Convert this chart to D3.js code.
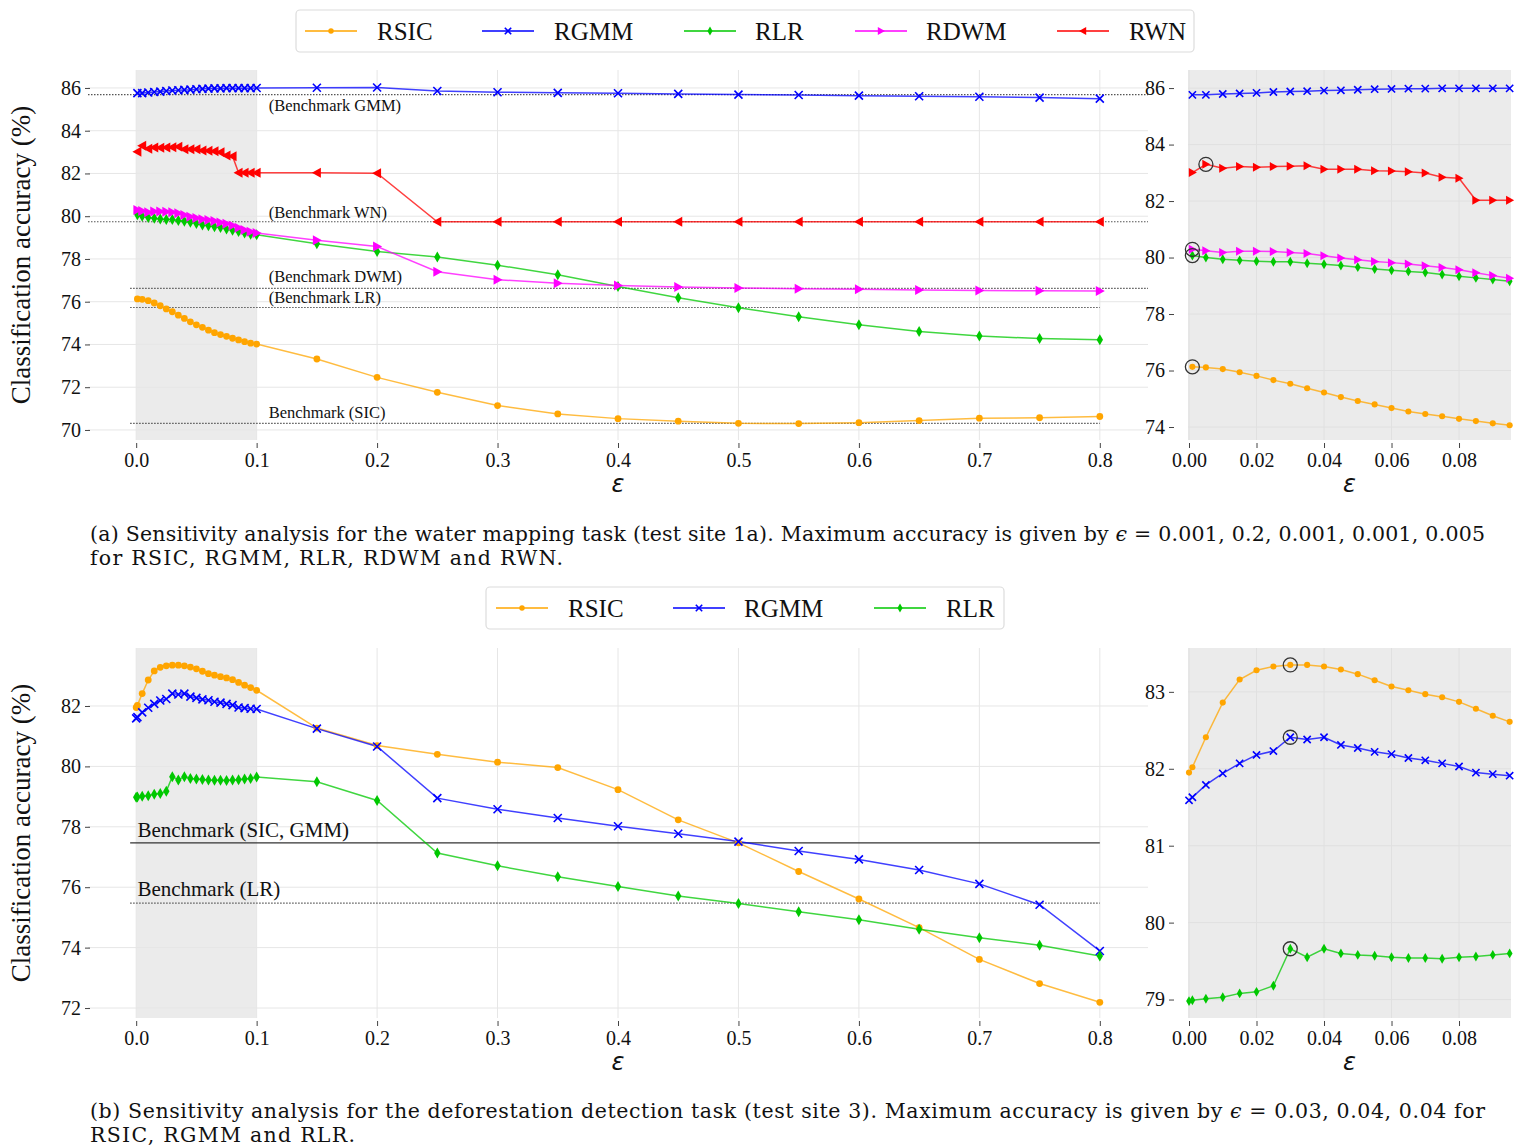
<!DOCTYPE html>
<html>
<head>
<meta charset="utf-8">
<script src="https://cdn.jsdelivr.net/npm/d3@7"></script>
<style>
  body { margin: 0; background: #fff; }
  svg { display: block; }
</style>
</head>
<body>
<script>
// ---- data: panel (a), water mapping ----
const epsA = [0.001, 0.005, 0.01, 0.015, 0.02, 0.025, 0.03, 0.035, 0.04, 0.045, 0.05, 0.055, 0.06, 0.065, 0.07, 0.075, 0.08, 0.085, 0.09, 0.095,
              0.1, 0.15, 0.2, 0.25, 0.3, 0.35, 0.4, 0.45, 0.5, 0.55, 0.6, 0.65, 0.7, 0.75, 0.8];
const rsicA = [76.13, 76.11, 76.05, 75.94, 75.81, 75.66, 75.53, 75.37, 75.22, 75.06, 74.92, 74.80, 74.67, 74.55, 74.46, 74.38, 74.29, 74.21, 74.13, 74.06,
               74.02, 73.32, 72.46, 71.76, 71.14, 70.75, 70.53, 70.41, 70.31, 70.30, 70.34, 70.44, 70.55, 70.57, 70.63];
const rgmmA = [85.76, 85.76, 85.79, 85.81, 85.83, 85.86, 85.88, 85.89, 85.91, 85.92, 85.94, 85.96, 85.97, 85.98, 85.98, 85.99, 85.99, 85.99, 85.99, 85.99,
               86.00, 86.01, 86.02, 85.86, 85.80, 85.77, 85.75, 85.72, 85.69, 85.67, 85.64, 85.61, 85.59, 85.55, 85.50];
const rlrA = [80.07, 80.00, 79.94, 79.90, 79.87, 79.85, 79.85, 79.80, 79.76, 79.72, 79.66, 79.59, 79.55, 79.51, 79.47, 79.40, 79.34, 79.28, 79.22, 79.16,
              79.13, 78.71, 78.35, 78.09, 77.71, 77.26, 76.71, 76.19, 75.72, 75.30, 74.92, 74.61, 74.39, 74.28, 74.22];
const rdwmA = [80.29, 80.24, 80.18, 80.22, 80.22, 80.21, 80.18, 80.14, 80.06, 79.98, 79.92, 79.86, 79.82, 79.77, 79.71, 79.65, 79.57, 79.46, 79.36, 79.27,
               79.21, 78.87, 78.58, 77.40, 77.03, 76.86, 76.76, 76.69, 76.64, 76.61, 76.58, 76.55, 76.53, 76.51, 76.50];
const rwnA = [83.01, 83.30, 83.16, 83.22, 83.20, 83.22, 83.23, 83.25, 83.13, 83.13, 83.13, 83.07, 83.06, 83.04, 82.99, 82.84, 82.81, 82.03, 82.03, 82.03,
              82.03, 82.03, 82.01, 79.74, 79.74, 79.74, 79.74, 79.74, 79.74, 79.74, 79.74, 79.74, 79.74, 79.74, 79.74];
const bestA = [0.001, 0.2, 0.001, 0.001, 0.005];
const benchNamesA = ["(Benchmark GMM)", "(Benchmark WN)", "(Benchmark DWM)", "(Benchmark LR)", "Benchmark (SIC)"];
const benchValsA = [85.69, 79.74, 76.62, 75.73, 70.31];
const benchSpanA = [[-0.04, 0.84], [-0.04, 0.84], [-0.005, 0.84], [-0.005, 0.8], [-0.005, 0.8]];

// ---- data: panel (b), deforestation ----
const epsB = [0, 0.001, 0.005, 0.01, 0.015, 0.02, 0.025, 0.03, 0.035, 0.04, 0.045, 0.05, 0.055, 0.06, 0.065, 0.07, 0.075, 0.08, 0.085, 0.09, 0.095,
              0.1, 0.15, 0.2, 0.25, 0.3, 0.35, 0.4, 0.45, 0.5, 0.55, 0.6, 0.65, 0.7, 0.75, 0.8];
const rsicB = [81.95, 82.02, 82.41, 82.86, 83.16, 83.28, 83.33, 83.35, 83.35, 83.33, 83.29, 83.23, 83.15, 83.07, 83.02, 82.97, 82.93, 82.87, 82.78, 82.69, 82.61,
               82.52, 81.27, 80.69, 80.40, 80.14, 79.96, 79.23, 78.23, 77.47, 76.52, 75.61, 74.66, 73.61, 72.81, 72.19];
const rgmmB = [81.59, 81.63, 81.79, 81.94, 82.07, 82.18, 82.23, 82.41, 82.38, 82.41, 82.31, 82.27, 82.22, 82.19, 82.14, 82.11, 82.07, 82.03, 81.95, 81.93, 81.91,
               81.90, 81.25, 80.66, 78.95, 78.58, 78.29, 78.02, 77.77, 77.51, 77.20, 76.92, 76.57, 76.11, 75.42, 73.89];
const rlrB = [78.98, 78.99, 79.01, 79.03, 79.08, 79.10, 79.18, 79.66, 79.55, 79.66, 79.60, 79.58, 79.57, 79.55, 79.54, 79.54, 79.53, 79.55, 79.56, 79.58, 79.60,
              79.65, 79.49, 78.87, 77.13, 76.71, 76.35, 76.02, 75.71, 75.46, 75.19, 74.92, 74.61, 74.33, 74.08, 73.72];
const bestB = [0.03, 0.03, 0.03];
const benchNamesB = ["Benchmark (SIC, GMM)", "Benchmark (LR)"];
const benchValsB = [77.47, 75.47];
const benchSpanB = [[-0.005, 0.8], [-0.005, 0.8]];

const mainTicksX = [0, 0.1, 0.2, 0.3, 0.4, 0.5, 0.6, 0.7, 0.8];
const insetTicksX = [0, 0.02, 0.04, 0.06, 0.08];
const ticksYA = [70, 72, 74, 76, 78, 80, 82, 84, 86];
const insetTicksYA = [74, 76, 78, 80, 82, 84, 86];
const ticksYB = [72, 74, 76, 78, 80, 82];
const insetTicksYB = [79, 80, 81, 82, 83];

const captionA = ["(a) Sensitivity analysis for the water mapping task (test site 1a). Maximum accuracy is given by ", "ϵ", " = 0.001,  0.2,  0.001,  0.001,  0.005"];
const captionA2 = "for RSIC, RGMM, RLR, RDWM and RWN.";
const captionB = ["(b) Sensitivity analysis for the deforestation detection task (test site 3). Maximum accuracy is given by ", "ϵ", " = 0.03,  0.04,  0.04 for"];
const captionB2 = "RSIC, RGMM and RLR.";

const colors = { RSIC: "#ffa500", RGMM: "#0000ff", RLR: "#00c800", RDWM: "#ff00ff", RWN: "#ff0000" };

const seriesA = [
  { name: "RSIC", vals: rsicA, mk: "circle", mkInset: "circle" },
  { name: "RGMM", vals: rgmmA, mk: "x", mkInset: "x" },
  { name: "RLR", vals: rlrA, mk: "diamond", mkInset: "diamond" },
  { name: "RDWM", vals: rdwmA, mk: "triR", mkInset: "triR" },
  { name: "RWN", vals: rwnA, mk: "triL", mkInset: "triR" }
];
const seriesB = [
  { name: "RSIC", vals: rsicB, mk: "circle", mkInset: "circle" },
  { name: "RGMM", vals: rgmmB, mk: "x", mkInset: "x" },
  { name: "RLR", vals: rlrB, mk: "diamond", mkInset: "diamond" }
];

const W = 1536, H = 1148;
const serif = "'Liberation Serif', 'Times New Roman', serif";
const capFont = "'DejaVu Serif', serif";
const svg = d3.select("body").append("svg").attr("width", W).attr("height", H);

function marker(g, type, color, scale) {
  const s = scale || 1;
  if (type === "circle") {
    g.append("circle").attr("r", 3.4 * s).attr("fill", color);
  } else if (type === "x") {
    const a = 4 * s;
    g.append("path").attr("d", `M${-a},${-a}L${a},${a}M${-a},${a}L${a},${-a}`)
      .attr("stroke", color).attr("stroke-width", 1.6).attr("fill", "none");
  } else if (type === "diamond") {
    g.append("path").attr("d", `M0,${-5.5 * s}L${3.2 * s},0L0,${5.5 * s}L${-3.2 * s},0Z`).attr("fill", color);
  } else if (type === "triR") {
    g.append("path").attr("d", `M${-4 * s},${-5 * s}L${5 * s},0L${-4 * s},${5 * s}Z`).attr("fill", color);
  } else if (type === "triL") {
    g.append("path").attr("d", `M${4 * s},${-5 * s}L${-5 * s},0L${4 * s},${5 * s}Z`).attr("fill", color);
  }
}

function panel(o) {
  const g = svg.append("g");
  const x = d3.scaleLinear().domain(o.xd).range([o.left, o.right]);
  const y = d3.scaleLinear().domain(o.yd).range([o.bottom, o.top]);

  // background shading
  const sx0 = o.shade ? x(o.shade[0]) : o.left;
  const sx1 = o.shade ? x(o.shade[1]) : o.right;
  g.append("rect").attr("x", sx0).attr("y", o.top).attr("width", sx1 - sx0)
    .attr("height", o.bottom - o.top).attr("fill", "#ebebeb");

  const gridCol = o.shade ? "#e6e6e6" : "#e0e0e0";
  g.selectAll(".gy").data(o.yTicks).join("line")
    .attr("x1", o.left).attr("x2", o.right)
    .attr("y1", d => y(d)).attr("y2", d => y(d))
    .attr("stroke", gridCol).attr("stroke-width", 1);
  g.selectAll(".gx").data(o.xTicks).join("line")
    .attr("x1", d => x(d)).attr("x2", d => x(d))
    .attr("y1", o.top).attr("y2", o.bottom)
    .attr("stroke", gridCol).attr("stroke-width", 1);

  // axes
  const ax = g.append("g").attr("transform", `translate(0,${o.bottom + 3})`)
    .call(d3.axisBottom(x).tickValues(o.xTicks).tickFormat(d3.format(o.xFmt)).tickSize(5).tickPadding(5));
  const ay = g.append("g").attr("transform", `translate(${o.yAxisX},0)`)
    .call(d3.axisLeft(y).tickValues(o.yTicks).tickFormat(d3.format("d")).tickSize(5).tickPadding(4));
  [ax, ay].forEach(a => {
    a.attr("font-family", serif).attr("font-size", 20);
    a.select(".domain").remove();
    a.selectAll("line").attr("stroke", "#444").attr("stroke-width", 1);
    a.selectAll("text").attr("font-family", serif).attr("font-size", 20).attr("fill", "#111");
  });

  // epsilon axis label, centred under the axes box
  g.append("text").attr("x", (o.left + o.right) / 2).attr("y", o.bottom + 52)
    .attr("text-anchor", "middle").attr("font-family", "'DejaVu Sans', sans-serif")
    .attr("font-style", "italic").attr("font-size", 24).attr("fill", "#111").text("ε");

  // benchmarks
  if (o.bench) {
    o.bench.vals.forEach((v, i) => {
      g.append("line").attr("x1", x(o.bench.span[i][0])).attr("x2", x(o.bench.span[i][1]))
        .attr("y1", y(v)).attr("y2", y(v))
        .attr("stroke", o.bench.solid[i] ? "#333" : "#555")
        .attr("stroke-width", o.bench.solid[i] ? 1.3 : 1.2)
        .attr("stroke-dasharray", o.bench.solid[i] ? null : "1.5,1.5");
      g.append("text").attr("x", x(o.bench.labelX)).attr("y", y(v) + o.bench.dy[i])
        .attr("font-family", serif).attr("font-size", o.bench.size).attr("fill", "#111")
        .text(o.bench.names[i]);
    });
  }

  // series
  const clipId = "clip" + Math.round(o.left) + "_" + Math.round(o.top);
  svg.append("clipPath").attr("id", clipId).append("rect")
    .attr("x", o.left - 8).attr("y", o.top - 8).attr("width", o.right - o.left + 16).attr("height", o.bottom - o.top + 16);
  const body = g.append("g").attr("clip-path", `url(#${clipId})`);
  o.series.forEach(s => {
    const pts = o.eps.map((e, i) => [e, s.vals[i]]).filter(p => p[0] <= o.xd[1] + 1e-9);
    body.append("path").datum(pts)
      .attr("d", d3.line().x(d => x(d[0])).y(d => y(d[1])))
      .attr("fill", "none").attr("stroke", colors[s.name]).attr("stroke-width", 1.5).attr("stroke-opacity", 0.75);
  });
  o.series.forEach(s => {
    const pts = o.eps.map((e, i) => [e, s.vals[i]]).filter(p => p[0] <= o.xd[1] + 1e-9);
    pts.forEach(p => {
      const m = body.append("g").attr("transform", `translate(${x(p[0])},${y(p[1])})`);
      marker(m, o.inset ? s.mkInset : s.mk, colors[s.name], o.inset ? 0.9 : 1);
    });
  });

  // circled maxima in the inset
  if (o.best) {
    o.series.forEach((s, i) => {
      const e = o.best[i];
      if (e > o.xd[1]) return;
      const k = o.eps.findIndex(v => Math.abs(v - e) < 1e-9);
      body.append("circle").attr("cx", x(e)).attr("cy", y(s.vals[k])).attr("r", 7)
        .attr("fill", "none").attr("stroke", "#333").attr("stroke-width", 1.3);
    });
  }
}

function legend(x0, y0, w, h, items) {
  const g = svg.append("g");
  g.append("rect").attr("x", x0).attr("y", y0).attr("width", w).attr("height", h).attr("rx", 4)
    .attr("fill", "#fff").attr("stroke", "#dcdcdc").attr("stroke-width", 1.2);
  items.forEach(it => {
    const cy = y0 + h / 2;
    g.append("line").attr("x1", it.lx).attr("x2", it.lx + 52).attr("y1", cy).attr("y2", cy)
      .attr("stroke", colors[it.name]).attr("stroke-width", 1.8).attr("stroke-opacity", 0.75);
    const m = g.append("g").attr("transform", `translate(${it.lx + 26},${cy})`);
    marker(m, it.mk, colors[it.name], 0.8);
    g.append("text").attr("x", it.tx).attr("y", cy + 8.5).attr("font-family", serif)
      .attr("font-size", 25).attr("fill", "#111").text(it.name);
  });
}

function yLabel(cy) {
  svg.append("text").attr("transform", `translate(30,${cy}) rotate(-90)`)
    .attr("text-anchor", "middle").attr("font-family", serif).attr("font-size", 27).attr("fill", "#111")
    .text("Classification accuracy (%)");
}

function caption(y, parts, line2, len2) {
  const t = svg.append("text").attr("x", 90).attr("y", y).attr("font-family", capFont).attr("font-size", 20.5)
    .attr("fill", "#111").attr("textLength", 1395).attr("lengthAdjust", "spacing");
  t.append("tspan").text(parts[0]);
  t.append("tspan").attr("font-style", "italic").text(parts[1]);
  t.append("tspan").text(parts[2]);
  svg.append("text").attr("x", 90).attr("y", y + 24).attr("font-family", capFont).attr("font-size", 20.5)
    .attr("fill", "#111").attr("textLength", len2).attr("lengthAdjust", "spacing").text(line2);
}

// ---- panel (a) ----
panel({
  left: 88, right: 1148, top: 70, bottom: 440, xd: [-0.04, 0.84], yd: [69.53, 86.84],
  shade: [0, 0.1], xTicks: mainTicksX, yTicks: ticksYA, xFmt: ".1f", yAxisX: 90,
  eps: epsA, series: seriesA,
  bench: { names: benchNamesA, vals: benchValsA, span: benchSpanA, solid: [false, false, false, false, false],
           dy: [16, -4, -6, -4, -5], labelX: 0.11, size: 16.5 }
});
panel({
  left: 1188, right: 1511, top: 70, bottom: 440, xd: [-0.0003, 0.0954], yd: [73.54, 86.64],
  xTicks: insetTicksX, yTicks: insetTicksYA, xFmt: ".2f", yAxisX: 1174,
  eps: epsA, series: seriesA, inset: true, best: bestA
});
legend(296, 10, 898, 42, [
  { name: "RSIC", mk: "circle", lx: 305, tx: 377 },
  { name: "RGMM", mk: "x", lx: 482, tx: 554 },
  { name: "RLR", mk: "diamond", lx: 684, tx: 755 },
  { name: "RDWM", mk: "triR", lx: 855, tx: 926 },
  { name: "RWN", mk: "triL", lx: 1057, tx: 1129 }
]);
yLabel(255);
caption(541, captionA, captionA2, 473);

// ---- panel (b) ----
panel({
  left: 88, right: 1148, top: 648, bottom: 1018, xd: [-0.04, 0.84], yd: [71.67, 83.92],
  shade: [0, 0.1], xTicks: mainTicksX, yTicks: ticksYB, xFmt: ".1f", yAxisX: 90,
  eps: epsB, series: seriesB,
  bench: { names: benchNamesB, vals: benchValsB, span: benchSpanB, solid: [true, false],
           dy: [-6, -7], labelX: 0.001, size: 21 }
});
panel({
  left: 1188, right: 1511, top: 648, bottom: 1018, xd: [-0.0003, 0.0954], yd: [78.76, 83.57],
  xTicks: insetTicksX, yTicks: insetTicksYB, xFmt: ".2f", yAxisX: 1174,
  eps: epsB, series: seriesB, inset: true, best: bestB
});
legend(486, 587, 518, 42, [
  { name: "RSIC", mk: "circle", lx: 496, tx: 568 },
  { name: "RGMM", mk: "x", lx: 673, tx: 744 },
  { name: "RLR", mk: "diamond", lx: 874, tx: 946 }
]);
yLabel(833);
caption(1118, captionB, captionB2, 265);
</script>
</body>
</html>
